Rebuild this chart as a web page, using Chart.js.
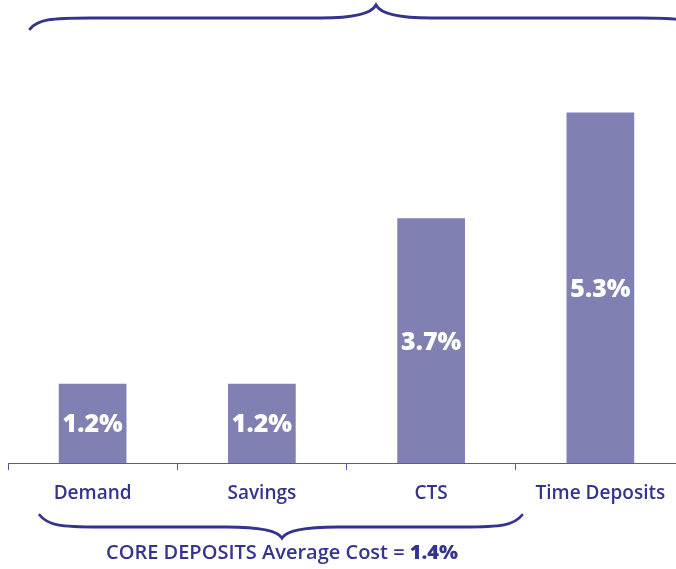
<!DOCTYPE html>
<html><head><meta charset="utf-8">
<script src="https://cdn.jsdelivr.net/npm/chart.js@4/dist/chart.umd.min.js"></script>
<style>html,body{margin:0;padding:0;overflow:hidden;background:#fff;width:676px;height:569px}#w{width:686px;height:569px;position:relative}</style>
</head><body><div id="w"><canvas id="c"></canvas></div>
<script>
const categories = ["Demand", "Savings", "CTS", "Time Deposits"];
const costs = [1.2, 1.2, 3.7, 5.3];
const valueLabels = ["1.2%", "1.2%", "3.7%", "5.3%"];
const coreLabel = "CORE DEPOSITS Average Cost = ";
const coreValue = "1.4%";

const BLUE = "#34348f";
const FONT = "'Open Sans', 'Noto Sans', sans-serif";

function brace(ctx, x1, x2, yEnd, yMid, yTip, tipX) {
  ctx.beginPath();
  ctx.moveTo(x1, yEnd);
  ctx.bezierCurveTo(x1 + 8, yMid + (yEnd - yMid) * 0.15, x1 + 20, yMid, x1 + 60, yMid);
  ctx.lineTo(tipX - 55, yMid);
  ctx.bezierCurveTo(tipX - 20, yMid, tipX - 4, yMid + (yTip - yMid) * 0.4, tipX, yTip);
  ctx.bezierCurveTo(tipX + 4, yMid + (yTip - yMid) * 0.4, tipX + 20, yMid, tipX + 55, yMid);
  ctx.lineTo(x2 - 60, yMid);
  ctx.bezierCurveTo(x2 - 20, yMid, x2 - 8, yMid + (yEnd - yMid) * 0.15, x2, yEnd);
  ctx.stroke();
}

const decor = {
  id: "decor",
  afterDatasetsDraw(chart) {
    const ctx = chart.ctx;
    const meta = chart.getDatasetMeta(0);
    ctx.save();
    ctx.fillStyle = "#ffffff";
    ctx.font = "800 25px " + FONT;
    ctx.textAlign = "center";
    ctx.textBaseline = "middle";
    meta.data.forEach((bar, i) => {
      const p = bar.getProps(["x", "y", "base"], true);
      ctx.fillText(valueLabels[i], p.x, (p.y + p.base) / 2 + 2);
    });
    ctx.restore();
  },
  afterDraw(chart) {
    const ctx = chart.ctx;
    const xs = chart.scales.x;
    ctx.save();
    ctx.strokeStyle = BLUE;
    ctx.lineWidth = 2.8;
    ctx.lineCap = "round";
    brace(ctx, 30, 700, 29, 18, 5, 376);
    const left = xs.getPixelForValue(0) - 53;
    const right = xs.getPixelForValue(2) + 91;
    brace(ctx, left, right, 515, 527, 538, 282);
    ctx.fillStyle = BLUE;
    ctx.textBaseline = "middle";
    ctx.font = "600 20px " + FONT;
    const w1 = ctx.measureText(coreLabel).width;
    ctx.font = "800 20px " + FONT;
    const w2 = ctx.measureText(coreValue).width;
    const cx = 282;
    let x0 = cx - (w1 + w2) / 2;
    ctx.textAlign = "left";
    ctx.font = "600 20px " + FONT;
    ctx.fillText(coreLabel, x0, 553);
    ctx.font = "800 20px " + FONT;
    ctx.fillText(coreValue, x0 + w1, 553);
    ctx.restore();
  }
};

new Chart(document.getElementById("c"), {
  type: "bar",
  data: {
    labels: categories,
    datasets: [{
      data: costs,
      backgroundColor: "#8080b3",
      borderWidth: 0,
      categoryPercentage: 1.0,
      barPercentage: 0.4
    }]
  },
  options: {
    responsive: true,
    maintainAspectRatio: false,
    animation: false,
    layout: { padding: { left: 8, right: 1, top: 0, bottom: 0 } },
    plugins: { legend: { display: false }, tooltip: { enabled: false } },
    scales: {
      x: {
        offset: true,
        grid: { display: true, drawOnChartArea: false, drawTicks: true, tickLength: 7, color: "#5858a8", lineWidth: 1, offset: true },
        border: { display: true, color: "#5858a8", width: 1 },
        ticks: { color: BLUE, font: { family: FONT, size: 19, weight: "600" }, padding: 12, maxRotation: 0 },
        afterFit(scale) { scale.height = 106; }
      },
      y: {
        display: false,
        min: 0,
        max: 7
      }
    }
  },
  plugins: [decor]
});
</script></body></html>
